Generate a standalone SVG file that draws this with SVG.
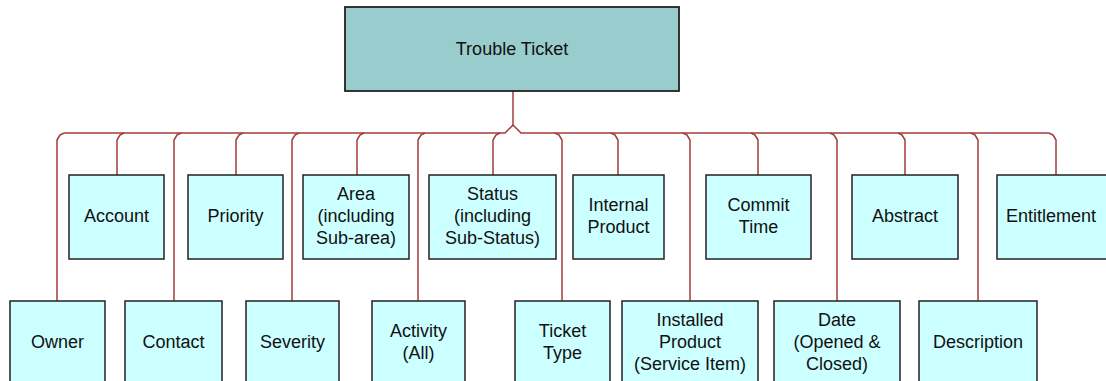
<svg xmlns="http://www.w3.org/2000/svg" width="1106" height="381" viewBox="0 0 1106 381">
<style>
.bg{fill:#ffffff}
.box{fill:#ccffff;stroke:#222222;stroke-width:1.5}
.root{fill:#99cccc;stroke:#222222;stroke-width:1.8}
.t{font-family:"Liberation Sans",Arial,sans-serif;font-size:18px;fill:#111111;text-anchor:middle}
.c{fill:none;stroke:#a33c3c;stroke-width:1.5;stroke-linejoin:round}
</style>
<rect class="bg" x="0" y="0" width="1106" height="381"/>
<g id="connectors">
<path class="c" d="M513 91 V125"/>
<path class="c" d="M64 133 H505 L511 127 L513 125 L515 127 L521 133 H1049"/>
<path class="c" d="M64 133 L60 135 L57 140 V301"/>
<path class="c" d="M124 133 L120 135 L117 140 V175"/>
<path class="c" d="M181 133 L177 135 L174 140 V301"/>
<path class="c" d="M243 133 L239 135 L236 140 V175"/>
<path class="c" d="M299 133 L295 135 L292 140 V301"/>
<path class="c" d="M364 133 L360 135 L357 140 V175"/>
<path class="c" d="M425 133 L421 135 L418 140 V301"/>
<path class="c" d="M500 133 L496 135 L493 140 V175"/>
<path class="c" d="M555 133 L559 135 L562 140 V301"/>
<path class="c" d="M611 133 L615 135 L618 140 V175"/>
<path class="c" d="M683 133 L687 135 L690 140 V301"/>
<path class="c" d="M751 133 L755 135 L758 140 V175"/>
<path class="c" d="M830 133 L834 135 L837 140 V301"/>
<path class="c" d="M898 133 L902 135 L905 140 V175"/>
<path class="c" d="M971 133 L975 135 L978 140 V301"/>
<path class="c" d="M1049 133 L1053 135 L1056 140 V175"/>
</g>
<g id="trouble-ticket">
<rect class="root" x="345" y="7" width="334" height="84"/>
<text class="t" x="512" y="55">Trouble Ticket</text>
</g>
<g id="account">
<rect class="box" x="69" y="175" width="95" height="84"/>
<text class="t" x="116.5" y="221.5">Account</text>
</g>
<g id="priority">
<rect class="box" x="188" y="175" width="95" height="84"/>
<text class="t" x="235.5" y="221.5">Priority</text>
</g>
<g id="area">
<rect class="box" x="303" y="175" width="106" height="84"/>
<text class="t" x="356" y="199.5">Area</text>
<text class="t" x="356" y="221.5">(including</text>
<text class="t" x="356" y="243.5">Sub-area)</text>
</g>
<g id="status">
<rect class="box" x="429" y="175" width="127" height="84"/>
<text class="t" x="492.5" y="199.5">Status</text>
<text class="t" x="492.5" y="221.5">(including</text>
<text class="t" x="492.5" y="243.5">Sub-Status)</text>
</g>
<g id="internal-product">
<rect class="box" x="573" y="175" width="91" height="84"/>
<text class="t" x="618.5" y="210.5">Internal</text>
<text class="t" x="618.5" y="232.5">Product</text>
</g>
<g id="commit-time">
<rect class="box" x="706" y="175" width="105" height="84"/>
<text class="t" x="758.5" y="210.5">Commit</text>
<text class="t" x="758.5" y="232.5">Time</text>
</g>
<g id="abstract">
<rect class="box" x="852" y="175" width="106" height="84"/>
<text class="t" x="905" y="221.5">Abstract</text>
</g>
<g id="entitlement">
<rect class="box" x="997" y="175" width="115" height="84"/>
<text class="t" x="1051" y="221.5">Entitlement</text>
</g>
<g id="owner">
<rect class="box" x="10" y="301" width="95" height="84"/>
<text class="t" x="57.5" y="347.5">Owner</text>
</g>
<g id="contact">
<rect class="box" x="125" y="301" width="97" height="84"/>
<text class="t" x="173.5" y="347.5">Contact</text>
</g>
<g id="severity">
<rect class="box" x="246" y="301" width="93" height="84"/>
<text class="t" x="292.5" y="347.5">Severity</text>
</g>
<g id="activity">
<rect class="box" x="372" y="301" width="93" height="84"/>
<text class="t" x="418.5" y="336.5">Activity</text>
<text class="t" x="418.5" y="358.5">(All)</text>
</g>
<g id="ticket-type">
<rect class="box" x="515" y="301" width="95" height="84"/>
<text class="t" x="562.5" y="336.5">Ticket</text>
<text class="t" x="562.5" y="358.5">Type</text>
</g>
<g id="installed-product">
<rect class="box" x="622" y="301" width="136" height="84"/>
<text class="t" x="690" y="325.5">Installed</text>
<text class="t" x="690" y="347.5">Product</text>
<text class="t" x="690" y="369.5">(Service Item)</text>
</g>
<g id="date">
<rect class="box" x="774" y="301" width="126" height="84"/>
<text class="t" x="837" y="325.5">Date</text>
<text class="t" x="837" y="347.5">(Opened &amp;</text>
<text class="t" x="837" y="369.5">Closed)</text>
</g>
<g id="description">
<rect class="box" x="919" y="301" width="118" height="84"/>
<text class="t" x="978" y="347.5">Description</text>
</g>
</svg>
